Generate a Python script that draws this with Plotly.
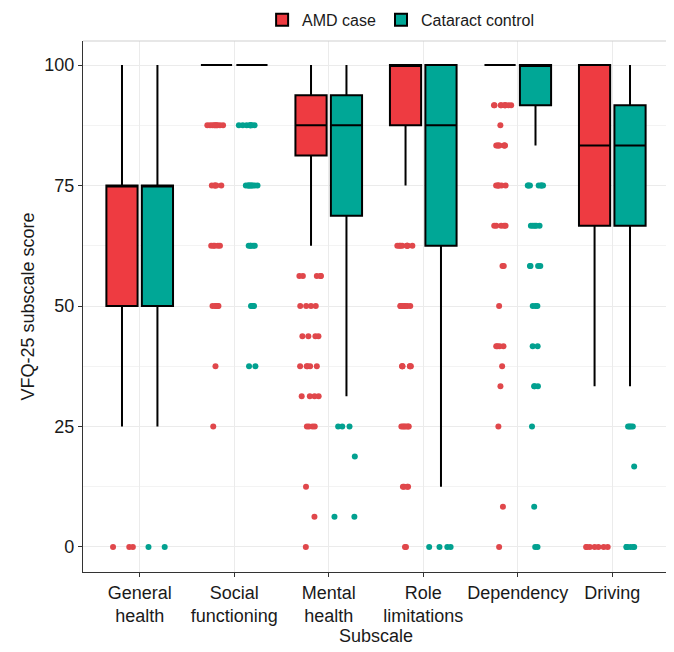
import plotly.graph_objects as go

categories = ["General health", "Social functioning", "Mental health",
              "Role limitations", "Dependency", "Driving"]
tick_labels = ["General<br>health", "Social<br>functioning", "Mental<br>health",
               "Role<br>limitations", "Dependency", "Driving"]

# Box statistics
amd_q1 = [50, 100, 81.25, 87.5, 100, 66.67]
amd_median = [75, 100, 87.5, 100, 100, 83.33]
amd_q3 = [75, 100, 93.75, 100, 100, 100]
amd_lower = [25, 100, 62.5, 75, 100, 33.33]
amd_upper = [100, 100, 100, 100, 100, 100]

cat_q1 = [50, 100, 68.75, 62.5, 91.67, 66.67]
cat_median = [75, 100, 87.5, 87.5, 100, 83.33]
cat_q3 = [75, 100, 93.75, 100, 100, 91.67]
cat_lower = [25, 100, 31.25, 12.5, 83.33, 33.33]
cat_upper = [100, 100, 100, 100, 100, 100]

# Outlier values per subscale
amd_out_general = [0, 0, 0]
amd_out_social = [87.5] * 9 + [75] * 5 + [62.5] * 5 + [50] * 5 + [37.5, 25]
amd_out_mental = [56.25] * 5 + [50] * 4 + [43.75] * 4 + [37.5] * 5 + [31.25] * 4 + [25] * 4 + [12.5, 6.25, 0]
amd_out_role = [62.5] * 8 + [50] * 8 + [37.5] * 6 + [25] * 6 + [12.5] * 4 + [0] * 2
amd_out_dependency = [91.67] * 9 + [87.5] + [83.33] * 7 + [75] * 6 + [66.67] * 5 + [58.33] * 2 + [50] + [41.67] * 4 + [37.5, 33.33, 25, 8.33, 0]
amd_out_driving = [0] * 7

cat_out_general = [0, 0]
cat_out_social = [87.5] * 8 + [75] * 9 + [62.5] * 5 + [50] * 4 + [37.5] * 2
cat_out_mental = [25] * 3 + [18.75] + [6.25] * 2
cat_out_role = [0] * 4
cat_out_dependency = [75] * 7 + [66.67] * 5 + [58.33] * 4 + [50] * 3 + [41.67] * 2 + [33.33] * 3 + [25, 8.33, 0, 0]
cat_out_driving = [25] * 4 + [16.67] + [0] * 6

amd_outliers = [amd_out_general, amd_out_social, amd_out_mental,
                amd_out_role, amd_out_dependency, amd_out_driving]
cat_outliers = [cat_out_general, cat_out_social, cat_out_mental,
                cat_out_role, cat_out_dependency, cat_out_driving]

RED = "#EE3B41"
TEAL = "#00A796"
RED_PT = "#E0474B"
TEAL_PT = "#02A190"

fig = go.Figure()

def add_group(name, q1, med, q3, lo, hi, outliers, fill, ptcol, og):
    fig.add_trace(go.Box(
        name=name, x=categories, q1=q1, median=med, q3=q3,
        lowerfence=lo, upperfence=hi, boxpoints=False,
        fillcolor=fill, line=dict(color="black", width=2),
        whiskerwidth=0, offsetgroup=og, legendgroup=og,
    ))
    xs, ys = [], []
    for c, vals in zip(categories, outliers):
        xs += [c] * len(vals)
        ys += vals
    fig.add_trace(go.Box(
        name=name, x=xs, y=ys, boxpoints="all", jitter=0.9, pointpos=0,
        fillcolor="rgba(0,0,0,0)", line=dict(color="rgba(0,0,0,0)", width=0),
        marker=dict(color=ptcol, size=6, line=dict(width=0)),
        whiskerwidth=0, offsetgroup=og, legendgroup=og, showlegend=False,
        hoverinfo="skip",
    ))

add_group("AMD case", amd_q1, amd_median, amd_q3, amd_lower, amd_upper,
          amd_outliers, RED, RED_PT, "amd")
add_group("Cataract control", cat_q1, cat_median, cat_q3, cat_lower, cat_upper,
          cat_outliers, TEAL, TEAL_PT, "cat")

FONT = "Liberation Sans, Arial, sans-serif"

fig.update_layout(
    width=666, height=644,
    margin=dict(l=74.5, r=5, t=33, b=80, autoexpand=False),
    paper_bgcolor="white", plot_bgcolor="white",
    boxmode="group", boxgap=0.25, boxgroupgap=0.12,
    font=dict(family=FONT, size=18, color="#1A1A1A"),
    showlegend=True,
    legend=dict(orientation="h", x=0.542, xanchor="center", y=1.04,
                yanchor="middle", font=dict(size=16, color="#1A1A1A"),
                bgcolor="rgba(0,0,0,0)", itemwidth=30, tracegroupgap=0),
    xaxis=dict(
        type="category", categoryorder="array", categoryarray=categories,
        tickvals=categories, ticktext=tick_labels,
        range=[-0.6, 5.6], showgrid=True, gridcolor="#EBEBEB", gridwidth=1,
        showline=True, linecolor="#333333", linewidth=1.2,
        ticks="outside", ticklen=4, tickcolor="#333333",
        tickfont=dict(size=18, color="#1A1A1A"),
        title=dict(text="Subscale", font=dict(size=18), standoff=4),
        zeroline=False,
    ),
    yaxis=dict(
        range=[-5.2, 105], tickvals=[0, 25, 50, 75, 100],
        showgrid=True, gridcolor="#EBEBEB", gridwidth=1,
        minor=dict(tickvals=[12.5, 37.5, 62.5, 87.5], showgrid=True,
                   gridcolor="#F3F3F3", gridwidth=0.8, ticks=""),
        showline=True, linecolor="#333333", linewidth=1.2, mirror=True,
        ticks="outside", ticklen=4, tickcolor="#333333",
        tickfont=dict(size=18, color="#1A1A1A"),
        title=dict(text="VFQ-25 subscale score", font=dict(size=18), standoff=4),
        zeroline=False,
    ),
    shapes=[dict(type="line", xref="paper", yref="paper", x0=0, x1=1, y0=1, y1=1,
                 line=dict(color="#D0D0D0", width=1.2))],
)

fig.write_html("out.html")
